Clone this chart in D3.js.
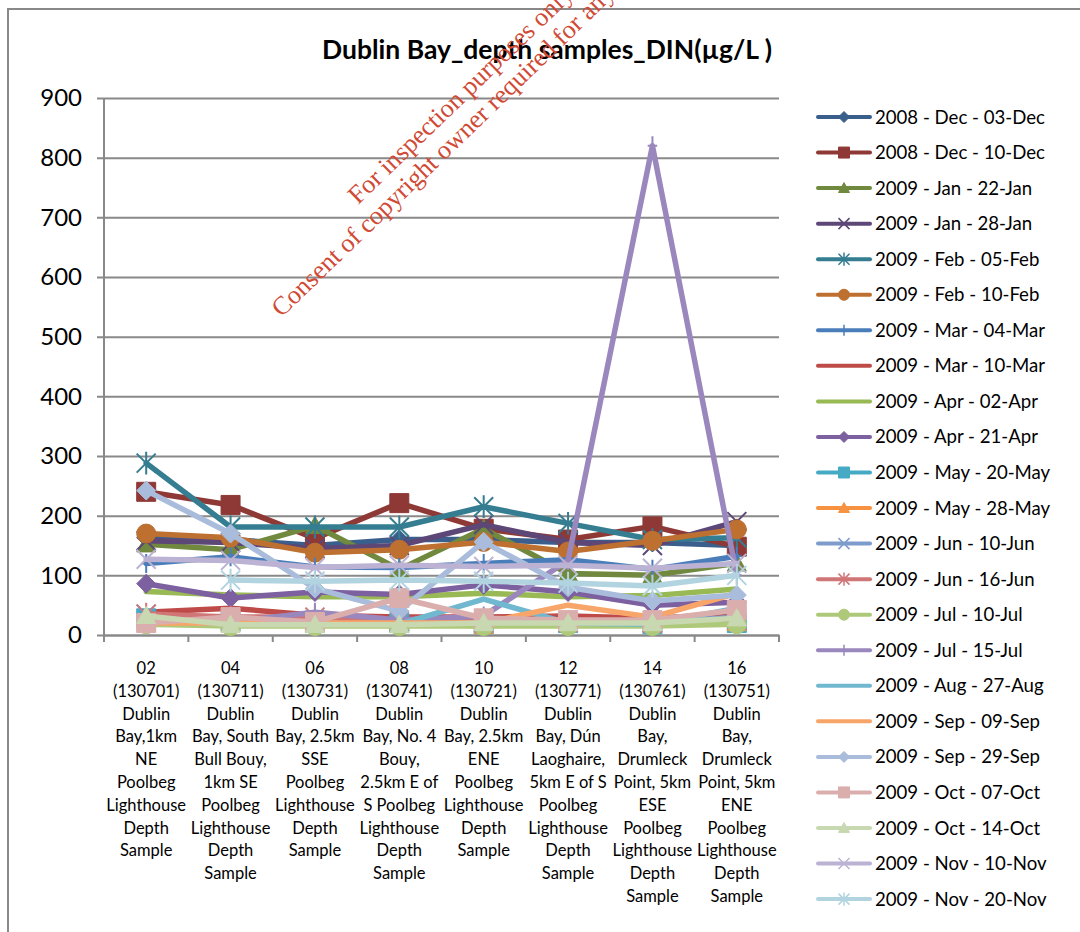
<!DOCTYPE html>
<html><head><meta charset="utf-8">
<script src="https://cdn.jsdelivr.net/npm/d3@7"></script>
<style>html,body{margin:0;padding:0;background:#fff;overflow:hidden}</style>
</head><body>
<svg id="chart" width="1080" height="932"></svg>
<script>
// ---------------- DATA ----------------
const chartTitle = "Dublin Bay_depth samples_DIN(µg/L )";
const categories = [
  "02\n(130701)\nDublin\nBay,1km\nNE\nPoolbeg\nLighthouse\nDepth\nSample",
  "04\n(130711)\nDublin\nBay, South\nBull Bouy,\n1km SE\nPoolbeg\nLighthouse\nDepth\nSample",
  "06\n(130731)\nDublin\nBay, 2.5km\nSSE\nPoolbeg\nLighthouse\nDepth\nSample",
  "08\n(130741)\nDublin\nBay, No. 4\nBouy,\n2.5km E of\nS Poolbeg\nLighthouse\nDepth\nSample",
  "10\n(130721)\nDublin\nBay, 2.5km\nENE\nPoolbeg\nLighthouse\nDepth\nSample",
  "12\n(130771)\nDublin\nBay, Dún\nLaoghaire,\n5km E of S\nPoolbeg\nLighthouse\nDepth\nSample",
  "14\n(130761)\nDublin\nBay,\nDrumleck\nPoint, 5km\nESE\nPoolbeg\nLighthouse\nDepth\nSample",
  "16\n(130751)\nDublin\nBay,\nDrumleck\nPoint, 5km\nENE\nPoolbeg\nLighthouse\nDepth\nSample"
];
const yTicks = [0, 100, 200, 300, 400, 500, 600, 700, 800, 900];

const seriesNames = [
  "2008 - Dec - 03-Dec", "2008 - Dec - 10-Dec", "2009 - Jan - 22-Jan", "2009 - Jan - 28-Jan",
  "2009 - Feb - 05-Feb", "2009 - Feb - 10-Feb", "2009 - Mar - 04-Mar", "2009 - Mar - 10-Mar",
  "2009 - Apr - 02-Apr", "2009 - Apr - 21-Apr", "2009 - May - 20-May", "2009 - May - 28-May",
  "2009 - Jun - 10-Jun", "2009 - Jun - 16-Jun", "2009 - Jul - 10-Jul", "2009 - Jul - 15-Jul",
  "2009 - Aug - 27-Aug", "2009 - Sep - 09-Sep", "2009 - Sep - 29-Sep", "2009 - Oct - 07-Oct",
  "2009 - Oct - 14-Oct", "2009 - Nov - 10-Nov", "2009 - Nov - 20-Nov"
];

const dec03 = [163, 160, 150, 160, 160, 155, 155, 150];
const dec10 = [240, 218, 162, 221, 178, 160, 182, 148];
const jan22 = [152, 143, 183, 110, 178, 103, 100, 120];
const jan28 = [158, 155, 145, 150, 185, 155, 150, 190];
const feb05 = [288, 181, 181, 181, 215, 187, 160, 163];
const feb10 = [170, 163, 138, 143, 156, 140, 158, 177];
const mar04 = [120, 131, 114, 113, 120, 126, 110, 132];
const mar10 = [38, 45, 33, 30, 30, 32, 28, 35];
const apr02 = [73, 67, 64, 64, 70, 64, 66, 77];
const apr21 = [86, 62, 72, 68, 84, 72, 50, 55];
const may20 = [28, 22, 20, 20, 18, 20, 18, 20];
const may28 = [20, 18, 18, 20, 15, 20, 18, 20];
const jun10 = [35, 25, 25, 22, 20, 20, 20, 30];
const jun16 = [35, 30, 30, 25, 22, 22, 20, 25];
const jul10 = [18, 15, 15, 15, 15, 15, 15, 18];
const jul15 = [25, 22, 38, 25, 32, 125, 820, 100];
const aug27 = [22, 20, 18, 18, 60, 20, 18, 45];
const sep09 = [20, 20, 20, 20, 20, 50, 30, 70];
const sep29 = [242, 170, 78, 40, 156, 80, 57, 67];
const oct07 = [20, 30, 22, 62, 28, 25, 25, 42];
const oct14 = [32, 17, 17, 17, 20, 20, 20, 28];
const nov10 = [127, 125, 113, 117, 115, 117, 112, 120];
const nov20 = [null, 92, 90, 92, 90, 87, 82, 100];

const seriesValues = [dec03, dec10, jan22, jan28, feb05, feb10, mar04, mar10, apr02, apr21,
  may20, may28, jun10, jun16, jul10, jul15, aug27, sep09, sep29, oct07, oct14, nov10, nov20];

const seriesColors = [
  "#3A5F8C", "#8E3935", "#71893F", "#5C4776", "#357D91", "#BD7030", "#4A7EBB", "#BE4B48",
  "#98B954", "#7D60A0", "#46AAC5", "#F69240", "#7E9CCB", "#D07676", "#AFC97A", "#9A87BD",
  "#70B8CF", "#F8A56A", "#A9BCDB", "#DBAEAE", "#C8D8B1", "#BCB2D3", "#B1D4E0"
];
const seriesMarkers = [
  "diamond", "square", "triangle", "x", "star", "circle", "plus", "none", "none",
  "diamond", "square", "triangle", "x", "star", "circle", "plus", "none", "none",
  "diamond", "square", "triangle", "x", "star"
];

const watermarkLines = ["For inspection purposes only.", "Consent of copyright owner required for any other use."];

// ---------------- CHART ----------------
const svg = d3.select("#chart");
const font = "Lato, 'Open Sans', sans-serif";
const gridColor = "#898989";

const plot = { left: 104, right: 779, top: 98, bottom: 635 };

const x = d3.scaleBand().domain(d3.range(categories.length)).range([plot.left, plot.right]);
const y = d3.scaleLinear().domain([0, 900]).range([plot.bottom, plot.top]);
const cx = i => x(i) + x.bandwidth() / 2;

// outer chart border
svg.append("rect").attr("x", 8).attr("y", 9).attr("width", 1200).attr("height", 1000)
  .attr("fill", "#fff").attr("stroke", gridColor).attr("stroke-width", 2);

// title
svg.append("text").attr("x", 547).attr("y", 59).attr("text-anchor", "middle")
  .attr("font-family", font).attr("font-weight", "bold").attr("font-size", 26.5)
  .attr("fill", "#000").text(chartTitle);

// y gridlines + ticks
const yAxis = d3.axisLeft(y).tickValues(yTicks).tickSize(-(plot.right - plot.left)).tickPadding(22);
const gy = svg.append("g").attr("transform", `translate(${plot.left},0)`).call(yAxis);
gy.select(".domain").remove();
gy.selectAll(".tick line").attr("stroke", gridColor).attr("stroke-width", 2).attr("x1", -7);
gy.selectAll(".tick text").attr("font-family", font).attr("font-size", 24).attr("fill", "#000");
svg.append("line").attr("x1", plot.left).attr("x2", plot.left).attr("y1", plot.top).attr("y2", plot.bottom)
  .attr("stroke", gridColor).attr("stroke-width", 2);

// x axis
const xAxis = d3.axisBottom(x).tickSize(0).tickFormat("");
const gx = svg.append("g").attr("transform", `translate(0,${plot.bottom})`).call(xAxis);
gx.select(".domain").attr("stroke", gridColor).attr("stroke-width", 2);
const boundaries = d3.range(categories.length + 1).map(i => i < categories.length ? x(i) : x(i - 1) + x.bandwidth());
gx.selectAll(".bound").data(boundaries).join("line")
  .attr("x1", d => d).attr("x2", d => d).attr("y1", 0).attr("y2", 7)
  .attr("stroke", gridColor).attr("stroke-width", 2);

// x labels (multi-line)
const lab = svg.append("g").attr("font-family", font).attr("font-size", 16.5).attr("fill", "#000")
  .attr("text-anchor", "middle");
categories.forEach((c, i) => {
  const t = lab.append("text").attr("x", cx(i)).attr("y", 674);
  c.split("\n").forEach((ln, j) => {
    t.append("tspan").attr("x", cx(i)).attr("y", 674 + j * 22.8).text(ln);
  });
});

// marker path generator
function markerPath(type, s) {
  switch (type) {
    case "diamond": return `M0,${-s}L${s},0L0,${s}L${-s},0Z`;
    case "square": return `M${-s},${-s}H${s}V${s}H${-s}Z`;
    case "triangle": return `M0,${-s}L${s},${s * 0.8}L${-s},${s * 0.8}Z`;
    case "circle": return d3.symbol(d3.symbolCircle, Math.PI * s * s)();
    case "x": return `M${-s},${-s}L${s},${s}M${-s},${s}L${s},${-s}`;
    case "star": return `M${-s},${-s}L${s},${s}M${-s},${s}L${s},${-s}M0,${-s * 1.2}V${s * 1.2}`;
    case "plus": return `M0,${-s}V${s}M${-s * 0.5},0H${s * 0.5}`;
    default: return null;
  }
}
const filled = t => ["diamond", "square", "triangle", "circle"].includes(t);

const line = d3.line().defined(d => d.v !== null).x(d => cx(d.i)).y(d => y(d.v));

const series = seriesNames.map((name, k) => ({
  name, color: seriesColors[k], marker: seriesMarkers[k],
  pts: seriesValues[k].map((v, i) => ({ i, v }))
}));

const plotG = svg.append("g");
series.forEach(s => {
  const g = plotG.append("g");
  g.append("path").attr("d", line(s.pts)).attr("fill", "none").attr("stroke", s.color)
    .attr("stroke-width", 5.5).attr("stroke-linejoin", "round").attr("stroke-linecap", "round");
  if (s.marker !== "none") {
    g.selectAll("path.m").data(s.pts.filter(d => d.v !== null)).join("path").attr("class", "m")
      .attr("transform", d => `translate(${cx(d.i)},${y(d.v)})`)
      .attr("d", markerPath(s.marker, 9.5))
      .attr("fill", filled(s.marker) ? s.color : "none")
      .attr("stroke", s.color).attr("stroke-width", filled(s.marker) ? 1 : 2);
  }
});

// legend
const leg = svg.append("g");
series.forEach((s, k) => {
  const yy = 117 + k * 35.55;
  leg.append("line").attr("x1", 818).attr("x2", 870).attr("y1", yy).attr("y2", yy)
    .attr("stroke", s.color).attr("stroke-width", 4).attr("stroke-linecap", "round");
  if (s.marker !== "none") {
    leg.append("path").attr("transform", `translate(844,${yy})`).attr("d", markerPath(s.marker, 5.5))
      .attr("fill", filled(s.marker) ? s.color : "none").attr("stroke", s.color)
      .attr("stroke-width", filled(s.marker) ? 1 : 1.5);
  }
  leg.append("text").attr("x", 875).attr("y", yy).attr("dy", "0.35em")
    .attr("font-family", font).attr("font-size", 18.6).attr("fill", "#000").text(s.name);
});

// watermark
const wm = svg.append("g").attr("transform", "translate(468,99) rotate(-44)")
  .attr("font-family", "'Liberation Serif', 'Times New Roman', serif").attr("font-size", 26)
  .attr("fill", "#D04A35").attr("text-anchor", "middle");
watermarkLines.forEach((t, j) => wm.append("text").attr("x", 0).attr("y", j * 28).text(t));
</script>
</body></html>
